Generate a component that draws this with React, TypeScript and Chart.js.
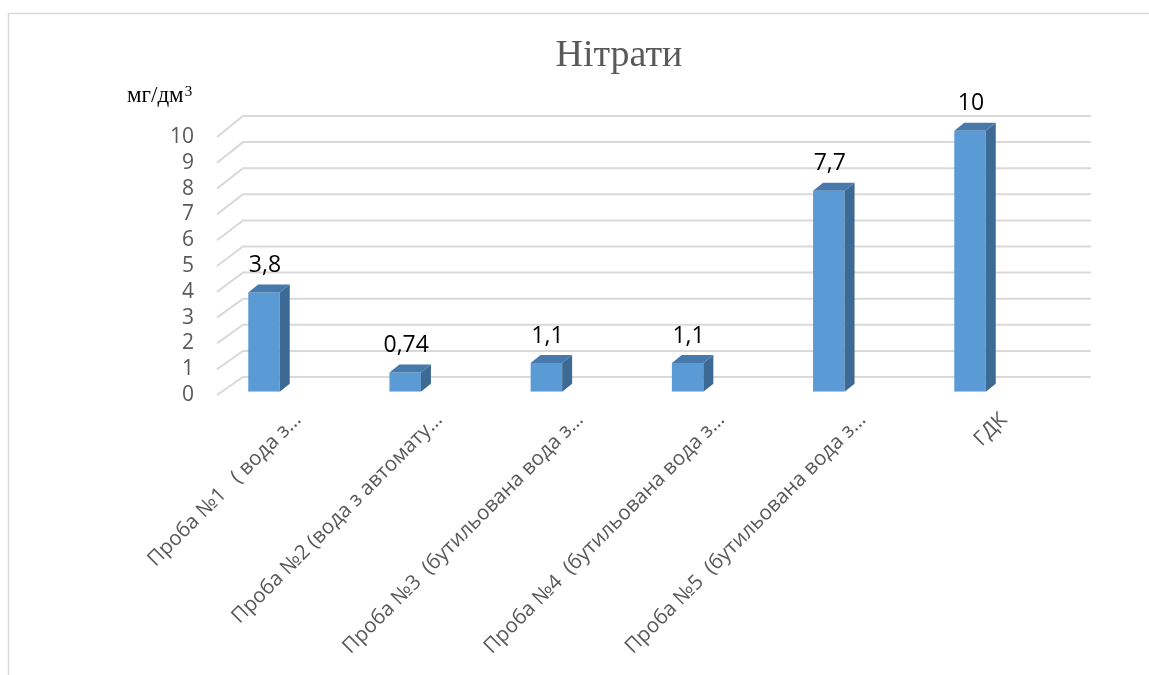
import React, { useEffect, useRef } from "react";
import { Chart, registerables } from "chart.js";

Chart.register(...registerables);

const categories = [
  "Проба №1   ( вода з…",
  "Проба №2 (вода з автомату…",
  "Проба №3  (бутильована вода з…",
  "Проба №4  (бутильована вода з…",
  "Проба №5  (бутильована вода з…",
  "ГДК",
];
const values = [3.8, 0.74, 1.1, 1.1, 7.7, 10];
const valueLabels = ["3,8", "0,74", "1,1", "1,1", "7,7", "10"];
const yTicks = [0, 1, 2, 3, 4, 5, 6, 7, 8, 9, 10];
const titleText = "Нітрати";
const unitText = "мг/дм";
const unitSup = "3";

const SANS = '"Open Sans", "Liberation Sans", sans-serif';
const SERIF = '"Liberation Serif", "DejaVu Serif", serif';

export default function App() {
  const ref = useRef<HTMLCanvasElement>(null);

  useEffect(() => {
    document.body.style.margin = "0";
    const canvas = ref.current!;
    const DX = 10;
    const DY = 8;

    const plugin = {
      id: "excel3d",
      beforeDraw(chart: any) {
        const ctx = chart.ctx;
        ctx.save();
        ctx.fillStyle = "#ffffff";
        ctx.fillRect(0, 0, chart.width, chart.height);
        // outer chart border
        ctx.strokeStyle = "#D9D9D9";
        ctx.lineWidth = 1.5;
        ctx.strokeRect(8.5, 13.5, chart.width + 20, chart.height + 20);
        // title
        ctx.fillStyle = "#595959";
        ctx.font = `38px ${SERIF}`;
        ctx.textAlign = "center";
        ctx.textBaseline = "middle";
        ctx.fillText(titleText, 619, 56);
        // unit label
        ctx.fillStyle = "#000000";
        ctx.textAlign = "left";
        ctx.textBaseline = "alphabetic";
        ctx.font = `23px ${SERIF}`;
        ctx.fillText(unitText, 127, 102);
        const w = ctx.measureText(unitText).width;
        ctx.font = `15px ${SERIF}`;
        ctx.fillText(unitSup, 127 + w + 1, 96);
        ctx.restore();
      },
      beforeDatasetsDraw(chart: any) {
        const ctx = chart.ctx;
        const y = chart.scales.y;
        const area = chart.chartArea;
        const y0 = y.getPixelForValue(0);
        ctx.save();
        ctx.strokeStyle = "#D9D9D9";
        ctx.lineWidth = 2;
        ctx.fillStyle = "#595959";
        ctx.font = `21px ${SANS}`;
        ctx.textAlign = "right";
        ctx.textBaseline = "middle";
        for (const v of yTicks) {
          const yb = y.getPixelForValue(v);
          const yFront = y0 + 3.3 + (yb - y0) * 0.9885;
          const yBack = yb - 14.7;
          ctx.beginPath();
          ctx.moveTo(area.left + 23.6, yFront);
          ctx.lineTo(area.left + 49.6, yBack);
          ctx.lineTo(area.right + 50.4, yBack);
          ctx.stroke();
          ctx.fillText(String(v), area.left + 0.5, yFront);
        }
        ctx.restore();
      },
      afterDatasetsDraw(chart: any) {
        const ctx = chart.ctx;
        const meta = chart.getDatasetMeta(0);
        const area = chart.chartArea;
        ctx.save();
        meta.data.forEach((bar: any, i: number) => {
          const p = bar.getProps(["x", "y", "base", "width"], true);
          const left = p.x - p.width / 2;
          const right = p.x + p.width / 2;
          const top = p.y;
          const base = p.base;
          // side face
          ctx.fillStyle = "#3D6A94";
          ctx.beginPath();
          ctx.moveTo(right, top);
          ctx.lineTo(right + DX, top - DY);
          ctx.lineTo(right + DX, base - DY);
          ctx.lineTo(right, base);
          ctx.closePath();
          ctx.fill();
          // top face
          ctx.fillStyle = "#4779AC";
          ctx.beginPath();
          ctx.moveTo(left, top);
          ctx.lineTo(left + DX, top - DY);
          ctx.lineTo(right + DX, top - DY);
          ctx.lineTo(right, top);
          ctx.closePath();
          ctx.fill();
          // value label
          ctx.fillStyle = "#000000";
          ctx.font = `23px ${SANS}`;
          ctx.textAlign = "center";
          ctx.textBaseline = "middle";
          ctx.fillText(valueLabels[i], p.x + 1, top - 27);
          // category label
          ctx.save();
          ctx.translate(p.x + 38, area.bottom + 29);
          ctx.rotate(-Math.PI / 4);
          ctx.fillStyle = "#595959";
          ctx.font = `20.5px ${SANS}`;
          ctx.textAlign = "right";
          ctx.textBaseline = "alphabetic";
          ctx.fillText(categories[i], 0, 0);
          ctx.restore();
        });
        ctx.restore();
      },
    };

    const chart = new Chart(canvas, {
      type: "bar",
      data: {
        labels: categories,
        datasets: [
          {
            data: values,
            backgroundColor: "#5B9BD5",
            borderWidth: 0,
            barPercentage: 0.223,
            categoryPercentage: 1,
          },
        ],
      },
      options: {
        responsive: false,
        animation: false,
        devicePixelRatio: 1,
        layout: {
          padding: { left: 193.4, right: 108.4, top: 130.7, bottom: 283.3 },
        },
        plugins: {
          legend: { display: false },
          tooltip: { enabled: false },
          title: { display: false },
        },
        scales: {
          x: { display: false },
          y: { display: false, min: 0, max: 10 },
        },
      },
      plugins: [plugin],
    });
    return () => chart.destroy();
  }, []);

  return (
    <canvas
      ref={ref}
      width={1149}
      height={675}
      style={{ display: "block", width: "1149px", height: "675px" }}
    />
  );
}
